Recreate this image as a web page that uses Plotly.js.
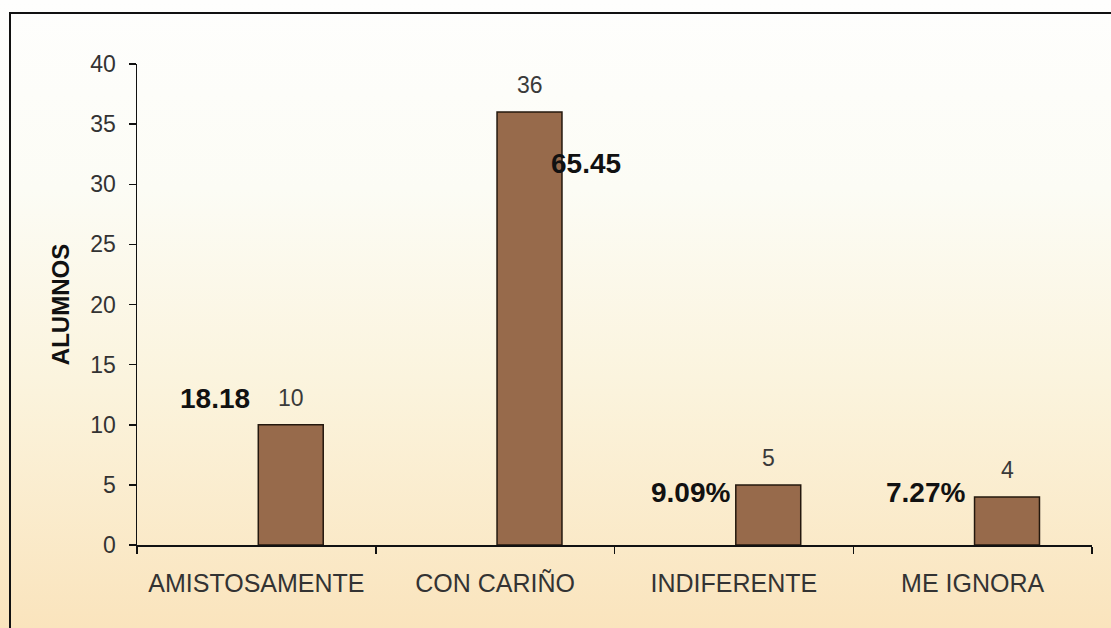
<!DOCTYPE html>
<html>
<head>
<meta charset="utf-8">
<script src="https://cdn.plot.ly/plotly-3.0.1.min.js"></script>
<style>
  html, body { margin: 0; padding: 0; }
  #wrap {
    position: relative;
    width: 1111px;
    height: 628px;
    overflow: hidden;
    background: linear-gradient(to bottom, #fefefd 0%, #fcfcf5 30%, #fbf4de 60%, #fae4bd 100%);
  }
  #frame {
    position: absolute;
    left: 9px;
    top: 12px;
    width: 1200px;
    height: 700px;
    border-left: 2px solid #111;
    border-top: 2px solid #111;
    pointer-events: none;
  }
  #chart { position: absolute; left: 0; top: 0; width: 1111px; height: 628px; }
</style>
</head>
<body>
<div id="wrap">
  <div id="chart"></div>
  <div id="frame"></div>
</div>
<script>
// Respuestas y número de alumnos
const categories = ['AMISTOSAMENTE', 'CON CARIÑO', 'INDIFERENTE', 'ME IGNORA'];
const alumnos = [10, 36, 5, 4];
const porcentajes = ['18.18', '65.45', '9.09%', '7.27%'];

// label placement for the percentage boxes (pixel shift from category centre, y in axis units)
const pctPlacement = [
    { xshift: -4, y: 12.2, xanchor: 'right' },
    { xshift: 54, y: 31.7, xanchor: 'left' },
    { xshift: -2, y: 4.4, xanchor: 'right' },
    { xshift: -6, y: 4.4, xanchor: 'right' },
];

const BAR_OFFSET = 0.008;
const BAR_WIDTH = 0.272;
const SLOT_PX = 239;
const barCentreShift = (BAR_OFFSET + BAR_WIDTH / 2) * SLOT_PX;

const FONT = "'Liberation Sans', Arial, sans-serif";

const traces = [{
    type: 'bar',
    x: categories,
    y: alumnos,
    offset: BAR_OFFSET,
    width: BAR_WIDTH,
    marker: {
        color: '#976a4b',
        line: { color: '#24180e', width: 1.5 },
    },
    hoverinfo: 'x+y',
    showlegend: false,
}];

// count labels above the bars
const countLabels = categories.map((c, i) => ({
    x: c,
    y: alumnos[i],
    xref: 'x',
    yref: 'y',
    text: String(alumnos[i]),
    showarrow: false,
    xshift: barCentreShift,
    yshift: 27,
    font: { family: FONT, size: 23, color: '#3a3a3a' },
}));

// bold percentage labels
const pctLabels = categories.map((c, i) => ({
    x: c,
    y: pctPlacement[i].y,
    xref: 'x',
    yref: 'y',
    text: porcentajes[i],
    showarrow: false,
    xanchor: pctPlacement[i].xanchor,
    yanchor: 'middle',
    xshift: pctPlacement[i].xshift,
    font: { family: FONT, size: 28, color: '#111', weight: 700 },
}));

const layout = {
    width: 1111,
    height: 628,
    paper_bgcolor: 'rgba(0,0,0,0)',
    plot_bgcolor: 'rgba(0,0,0,0)',
    margin: { l: 137, r: 19, t: 64, b: 83 },
    font: { family: FONT, color: '#333' },
    bargap: 0,
    xaxis: {
        type: 'category',
        tickson: 'boundaries',
        ticks: 'outside',
        ticklen: 7,
        tickwidth: 1.5,
        tickcolor: '#111',
        showline: true,
        linecolor: '#111',
        linewidth: 1.5,
        showgrid: false,
        zeroline: false,
        ticklabelstandoff: 15,
        tickfont: { family: FONT, size: 25, color: '#333' },
        fixedrange: true,
    },
    yaxis: {
        range: [0, 40],
        dtick: 5,
        ticks: 'outside',
        ticklen: 7,
        tickwidth: 1.5,
        tickcolor: '#111',
        showline: true,
        linecolor: '#111',
        linewidth: 1.5,
        showgrid: false,
        zeroline: false,
        ticklabelstandoff: 8,
        tickfont: { family: FONT, size: 23, color: '#333' },
        title: {
            text: 'ALUMNOS',
            standoff: 14,
            font: { family: FONT, size: 24, color: '#111', weight: 700 },
        },
        fixedrange: true,
    },
    annotations: countLabels.concat(pctLabels),
};

Plotly.newPlot('chart', traces, layout, { displayModeBar: false, staticPlot: true });
</script>
</body>
</html>
